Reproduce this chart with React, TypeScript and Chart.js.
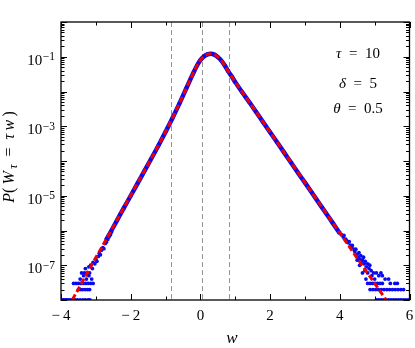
import React, { useEffect, useRef } from "react";
import { Chart, registerables } from "chart.js";
Chart.register(...registerables);

// ---------- data ----------
const theoryW = [-3.8, -3.6, -3.4, -3.2, -3.0, -2.8, -2.6, -2.4, -2.2, -2.0, -1.8, -1.6, -1.4, -1.2, -1.0, -0.8, -0.6, -0.4, -0.2, -0.1, 0.0, 0.1, 0.2, 0.3, 0.4, 0.5, 0.6, 0.7, 0.8, 0.9, 1.0, 1.2, 1.4, 1.6, 1.8, 2.0, 2.2, 2.4, 2.6, 2.8, 3.0, 3.2, 3.4, 3.6, 3.8, 4.0, 4.2, 4.4, 4.6, 4.8, 5.0, 5.2, 5.4];
const theoryP = [6.03e-9, 1.38e-8, 3.16e-8, 7.24e-8, 1.66e-7, 3.72e-7, 8.51e-7, 1.95e-6, 4.47e-6, 1.02e-5, 2.34e-5, 5.37e-5, 1.23e-4, 2.88e-4, 6.92e-4, 1.74e-3, 4.57e-3, 1.26e-2, 3.47e-2, 5.5e-2, 7.94e-2, 0.102, 0.117, 0.122, 0.115, 0.0977, 0.0776, 0.0562, 0.038, 0.0269, 0.0186, 9.55e-3, 5.01e-3, 2.57e-3, 1.32e-3, 6.76e-4, 3.47e-4, 1.78e-4, 9.12e-5, 4.68e-5, 2.4e-5, 1.23e-5, 6.31e-6, 3.24e-6, 1.66e-6, 8.51e-7, 4.37e-7, 2.24e-7, 1.15e-7, 5.89e-8, 3.02e-8, 1.55e-8, 7.94e-9];

const simCoreW = [-2.7, -2.6, -2.4, -2.2, -2.0, -1.8, -1.6, -1.4, -1.2, -1.0, -0.8, -0.6, -0.4, -0.2, -0.1, 0.0, 0.1, 0.2, 0.3, 0.4, 0.5, 0.6, 0.7, 0.8, 0.9, 1.0, 1.2, 1.4, 1.6, 1.8, 2.0, 2.2, 2.4, 2.6, 2.8, 3.0, 3.2, 3.4, 3.6, 3.8, 4.0];
const simCoreP = [5.4e-7, 8.2e-7, 1.9e-6, 4.4e-6, 1.0e-5, 2.3e-5, 5.3e-5, 1.22e-4, 2.85e-4, 6.9e-4, 1.73e-3, 4.55e-3, 1.26e-2, 3.46e-2, 5.5e-2, 7.95e-2, 0.102, 0.117, 0.122, 0.115, 0.0975, 0.0775, 0.0562, 0.038, 0.0269, 0.0186, 9.5e-3, 5.0e-3, 2.57e-3, 1.31e-3, 6.7e-4, 3.45e-4, 1.77e-4, 9.0e-5, 4.6e-5, 2.38e-5, 1.22e-5, 6.2e-6, 3.2e-6, 1.63e-6, 8.3e-7];

const leftTailW = [-3.97, -3.92, -3.87, -3.83, -3.78, -3.72, -3.66, -3.6, -3.53, -3.45, -3.37, -3.3, -3.22, -3.17,
  -3.5, -3.44, -3.38, -3.31, -3.24, -3.18,
  -3.64, -3.57, -3.5, -3.43, -3.36, -3.29, -3.22, -3.15, -3.08,
  -3.45, -3.27, -3.12, -3.35, -3.2, -3.41, -3.33, -3.25, -3.18,
  -3.3, -3.2, -3.15, -3.1, -3.08, -3.03, -3.0, -2.97, -2.93, -2.9, -2.87, -2.84, -2.8, -2.77, -2.73, -2.7, -2.66, -2.62, -2.58, -2.55];
const leftTailP = [1e-8, 1e-8, 1e-8, 1e-8, 1e-8, 1e-8, 1e-8, 1e-8, 1e-8, 1e-8, 1e-8, 1e-8, 1e-8, 1e-8,
  2e-8, 2e-8, 2e-8, 2e-8, 2e-8, 2e-8,
  3e-8, 3e-8, 3e-8, 3e-8, 3e-8, 3e-8, 3e-8, 3e-8, 3e-8,
  4e-8, 4e-8, 4e-8, 5e-8, 5e-8, 6e-8, 6e-8, 6e-8, 6e-8,
  8e-8, 9e-8, 1.0e-7, 8e-8, 1.2e-7, 1.1e-7, 1.5e-7, 1.3e-7, 1.8e-7, 2.2e-7, 2.0e-7, 2.7e-7, 3.2e-7, 3.0e-7, 4.2e-7, 4.6e-7, 5.5e-7, 6.6e-7, 7.5e-7, 9.0e-7];

const rightTailW = [4.05, 4.1, 4.12, 4.17, 4.2, 4.23, 4.27, 4.3, 4.33, 4.36, 4.4, 4.43, 4.46, 4.5, 4.52, 4.55, 4.58, 4.6, 4.62, 4.65, 4.68, 4.7, 4.73, 4.76, 4.8, 4.84, 4.5, 4.57, 4.86,
  4.65, 4.72, 4.8, 4.9, 4.97, 5.05, 5.12, 5.18, 5.22,
  4.75, 4.92, 5.0, 5.3, 5.4,
  4.8, 4.87, 4.94, 5.01, 5.08, 5.15, 5.22, 5.45, 5.58, 5.65,
  4.87, 4.95, 5.03, 5.11, 5.19, 5.27, 5.35, 5.43, 5.51, 5.59, 5.67, 5.75, 5.83,
  5.05, 5.12, 5.19, 5.26, 5.33, 5.4, 5.47, 5.54, 5.61, 5.68, 5.75, 5.82, 5.89, 5.96];
const rightTailP = [7.6e-7, 6.5e-7, 7.2e-7, 5.6e-7, 5.0e-7, 4.5e-7, 4.8e-7, 3.8e-7, 3.3e-7, 3.7e-7, 2.9e-7, 2.5e-7, 2.9e-7, 2.1e-7, 1.7e-7, 2.3e-7, 1.5e-7, 1.9e-7, 1.2e-7, 1.4e-7, 1.7e-7, 1.1e-7, 1.3e-7, 9e-8, 1.1e-7, 8e-8, 1.4e-7, 1.0e-7, 1.0e-7,
  6e-8, 7e-8, 6e-8, 7e-8, 6e-8, 6e-8, 5e-8, 6e-8, 5e-8,
  4e-8, 5e-8, 4e-8, 4e-8, 4e-8,
  3e-8, 3e-8, 3e-8, 3e-8, 3e-8, 3e-8, 3e-8, 3e-8, 3e-8, 3e-8,
  2e-8, 2e-8, 2e-8, 2e-8, 2e-8, 2e-8, 2e-8, 2e-8, 2e-8, 2e-8, 2e-8, 2e-8, 2e-8,
  1e-8, 1e-8, 1e-8, 1e-8, 1e-8, 1e-8, 1e-8, 1e-8, 1e-8, 1e-8, 1e-8, 1e-8, 1e-8, 1e-8];

const xTickValues = [-4, -2, 0, 2, 4, 6];
const xTickLabels = ["\u2212\u20094", "\u2212\u20092", "0", "2", "4", "6"];
const xMinorTicks = [-3, -1, 1, 3, 5];
const yLabelValues = [1e-1, 1e-3, 1e-5, 1e-7];
const yLabelExponents = ["\u22121", "\u22123", "\u22125", "\u22127"];
const guideLines = [-0.83, 0.05, 0.83];
const paramSymbols = ["\u03C4", "\u03B4", "\u03B8"];
const paramValues = ["10", "5", "0.5"];

const SERIF = "'Liberation Serif', 'Times New Roman', serif";

const pts = (xs: number[], ys: number[]) => xs.map((x, i) => ({ x, y: ys[i] }));

const decor = {
  id: "decor",
  beforeDatasetsDraw(chart: any) {
    const { ctx, chartArea: a, scales } = chart;
    const x = scales.x;
    ctx.save();
    ctx.strokeStyle = "rgb(150,150,150)";
    ctx.lineWidth = 1;
    ctx.setLineDash([5, 3]);
    for (const g of guideLines) {
      const px = Math.round(x.getPixelForValue(g)) + 0.5;
      ctx.beginPath();
      ctx.moveTo(px, a.top);
      ctx.lineTo(px, a.bottom);
      ctx.stroke();
    }
    ctx.restore();
  },
  afterDatasetsDraw(chart: any) {
    const { ctx, chartArea: a, scales } = chart;
    const x = scales.x;
    const y = scales.y;
    ctx.save();
    ctx.setLineDash([]);
    ctx.strokeStyle = "#000";
    ctx.lineWidth = 1;
    const vt = (v: number, len: number) => {
      const px = Math.round(x.getPixelForValue(v)) + 0.5;
      ctx.beginPath();
      ctx.moveTo(px, a.bottom);
      ctx.lineTo(px, a.bottom - len);
      ctx.moveTo(px, a.top);
      ctx.lineTo(px, a.top + len);
      ctx.stroke();
    };
    xTickValues.forEach((v) => vt(v, 6));
    xMinorTicks.forEach((v) => vt(v, 3.5));
    const ht = (v: number, len: number) => {
      const py = Math.round(y.getPixelForValue(v)) + 0.5;
      ctx.beginPath();
      ctx.moveTo(a.left, py);
      ctx.lineTo(a.left + len, py);
      ctx.moveTo(a.right, py);
      ctx.lineTo(a.right - len, py);
      ctx.stroke();
    };
    for (let k = -8; k <= 0; k++) {
      for (let m = 1; m <= 9; m++) {
        const v = m * Math.pow(10, k);
        if (v < 1e-8 * 0.999 || v > 1.001) continue;
        ht(v, m === 1 ? 6 : 3.5);
      }
    }
    ctx.lineWidth = 1.3;
    ctx.strokeRect(a.left, a.top, a.right - a.left, a.bottom - a.top);

    ctx.fillStyle = "#000";
    ctx.font = `15px ${SERIF}`;
    ctx.textAlign = "center";
    ctx.textBaseline = "alphabetic";
    xTickValues.forEach((v, i) => {
      ctx.fillText(xTickLabels[i], x.getPixelForValue(v), 320);
    });
    yLabelValues.forEach((v, i) => {
      const py = y.getPixelForValue(v);
      ctx.font = `11.5px ${SERIF}`;
      const sw = ctx.measureText(yLabelExponents[i]).width;
      ctx.textAlign = "right";
      ctx.fillText(yLabelExponents[i], 55, py + 3.3);
      ctx.font = `15px ${SERIF}`;
      ctx.fillText("10", 55 - sw - 0.5, py + 8);
    });
    ctx.font = `italic 17px ${SERIF}`;
    ctx.textAlign = "center";
    ctx.fillText("w", 232, 343);

    const drawRuns = (runs: { t: string; f: string; dy: number }[], cxCenter: number, by: number) => {
      let total = 0;
      const widths = runs.map((r) => {
        ctx.font = r.f;
        const w = ctx.measureText(r.t).width;
        total += w;
        return w;
      });
      let cx = cxCenter - total / 2;
      ctx.textAlign = "left";
      runs.forEach((r, i) => {
        ctx.font = r.f;
        ctx.fillText(r.t, cx, by + r.dy);
        cx += widths[i];
      });
    };

    ctx.save();
    ctx.translate(13.5, 157);
    ctx.rotate(-Math.PI / 2);
    drawRuns(
      [
        { t: "P", f: `italic 16px ${SERIF}`, dy: 0 },
        { t: "(\u2009", f: `16px ${SERIF}`, dy: 0 },
        { t: "W", f: `italic 16px ${SERIF}`, dy: 0 },
        { t: "\u2009\u03C4", f: `italic 12px ${SERIF}`, dy: 3 },
        { t: "\u2002=\u2002", f: `16px ${SERIF}`, dy: 0 },
        { t: "\u03C4\u2009w", f: `italic 16px ${SERIF}`, dy: 0 },
        { t: "\u2009)", f: `16px ${SERIF}`, dy: 0 },
      ],
      0,
      0
    );
    ctx.restore();

    const base = [58, 87.5, 113];
    paramSymbols.forEach((s, i) => {
      drawRuns(
        [
          { t: s, f: `italic 15px ${SERIF}`, dy: 0 },
          { t: "\u2002=\u2002", f: `15px ${SERIF}`, dy: 0 },
          { t: paramValues[i], f: `15px ${SERIF}`, dy: 0 },
        ],
        358,
        base[i]
      );
    });
    ctx.restore();
  },
};

export default function App() {
  const ref = useRef<HTMLCanvasElement | null>(null);
  useEffect(() => {
    if (!ref.current) return;
    const chart = new Chart(ref.current, {
      type: "scatter",
      data: {
        datasets: [
          {
            label: "theory",
            data: pts(theoryW, theoryP),
            showLine: true,
            borderColor: "rgb(240,0,0)",
            borderWidth: 3,
            borderDash: [6, 3],
            pointRadius: 0,
            cubicInterpolationMode: "monotone",
            clip: 0,
          } as any,
          {
            label: "simulation",
            data: pts(simCoreW, simCoreP),
            showLine: true,
            borderColor: "rgb(10,10,240)",
            backgroundColor: "rgb(10,10,240)",
            borderWidth: 4.5,
            pointRadius: 2,
            pointBorderWidth: 0,
            cubicInterpolationMode: "monotone",
            clip: 0,
          } as any,
          {
            label: "left tail",
            data: pts(leftTailW, leftTailP),
            showLine: false,
            backgroundColor: "rgb(10,10,240)",
            pointRadius: 1.9,
            pointBorderWidth: 0,
            clip: 0,
          } as any,
          {
            label: "right tail",
            data: pts(rightTailW, rightTailP),
            showLine: false,
            backgroundColor: "rgb(10,10,240)",
            pointRadius: 1.9,
            pointBorderWidth: 0,
            clip: 0,
          } as any,
        ],
      },
      options: {
        animation: false,
        responsive: false,
        layout: { padding: { left: 61, right: 5.5, top: 22, bottom: 48 } },
        plugins: { legend: { display: false }, tooltip: { enabled: false } },
        scales: {
          x: { type: "linear", min: -4, max: 6, display: false },
          y: { type: "logarithmic", min: 1e-8, max: 1, display: false },
        },
      },
      plugins: [decor],
    });
    return () => chart.destroy();
  }, []);
  return (
    <div style={{ position: "fixed", left: 0, top: 0, width: 415, height: 348, background: "#fff" }}>
      <canvas ref={ref} width={415} height={348} style={{ display: "block" }} />
    </div>
  );
}
